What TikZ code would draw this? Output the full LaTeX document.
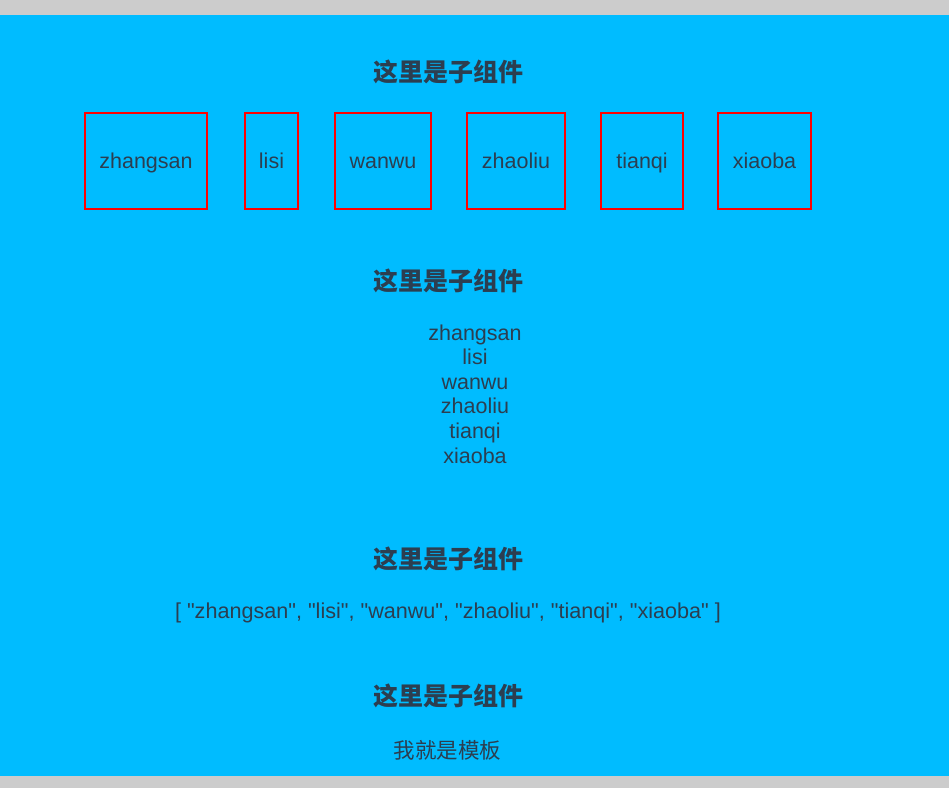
\documentclass[tikz,border=0pt]{standalone}
\usepackage{fontspec}
\setmainfont{Liberation Sans}[Ligatures=TeXOff]
\newfontfamily\cjk{Noto Sans CJK SC}
\definecolor{bgblue}{HTML}{00BCFF}
\definecolor{bggray}{HTML}{CCCCCC}
\definecolor{txtc}{HTML}{2C3E50}
\tikzset{
  txt/.style={text=txtc, font=\fontsize{10.75}{12}\selectfont, inner sep=0pt},
  cjktxt/.style={text=txtc, font=\cjk\fontsize{10.75}{12}\selectfont, inner sep=0pt},
  head/.style={text=txtc, font=\cjk\bfseries\fontsize{12.5}{14}\selectfont, inner sep=0pt},
  namebox/.style={draw=red, line width=0.6pt, minimum height=48pt, inner sep=0pt,
    text height=9.5pt, text depth=2.26pt,
    text=txtc, font=\fontsize{10.75}{12}\selectfont}
}
\begin{document}
\begin{tikzpicture}[x=0.5pt,y=-0.5pt]
\useasboundingbox (0,0) rectangle (949,788);
\fill[bggray] (0,0) rectangle (949,788);
\fill[bgblue] (0,15) rectangle (949,776);
% section 1
\node[head] (h1) at (448,72) {这里是子组件};
\node[namebox, minimum width=61pt] (b1) at (146,161) {zhangsan};
\node[namebox, minimum width=26.5pt] (b2) at (271.5,161) {lisi};
\node[namebox, minimum width=48pt] (b3) at (383,161) {wanwu};
\node[namebox, minimum width=49pt] (b4) at (516,161) {zhaoliu};
\node[namebox, minimum width=41pt] (b5) at (642,161) {tianqi};
\node[namebox, minimum width=46.5pt] (b6) at (764.5,161) {xiaoba};
% section 2
\node[head] (h2) at (448,281) {这里是子组件};
\node[txt, anchor=base] (l1) at (475,340) {zhangsan};
\node[txt, anchor=base] (l2) at (475,364.6) {lisi};
\node[txt, anchor=base] (l3) at (475,389.2) {wanwu};
\node[txt, anchor=base] (l4) at (475,413.8) {zhaoliu};
\node[txt, anchor=base] (l5) at (475,438.4) {tianqi};
\node[txt, anchor=base] (l6) at (475,463) {xiaoba};
% section 3
\node[head] (h3) at (448,559) {这里是子组件};
\node[txt, font=\fontsize{10.8}{12}\selectfont] (arr) at (448,613) {[ "zhangsan", "lisi", "wanwu", "zhaoliu", "tianqi", "xiaoba" ]};
% section 4
\node[head] (h4) at (448,696) {这里是子组件};
\node[cjktxt] (tpl) at (447.5,750) {我就是模板};
\end{tikzpicture}
\end{document}
